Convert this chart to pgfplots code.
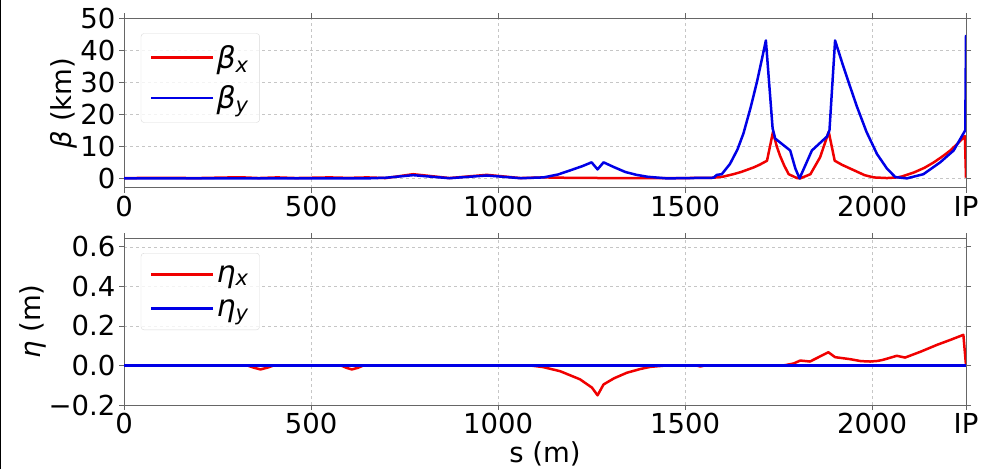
\documentclass[border=0pt]{standalone}
\usepackage{fontspec}
\setmainfont{DejaVu Sans}
\usepackage{pgfplots}
\pgfplotsset{compat=1.18}
\definecolor{mplred}{RGB}{240,0,0}
\definecolor{mplblue}{RGB}{0,0,230}
\newcommand{\bigfont}{\fontsize{27.5}{30}\selectfont}
\newcommand{\legfont}{\fontsize{30}{32}\selectfont}
\pgfplotsset{
  mystyle/.style={
    scale only axis, width=842pt, anchor=south west,
    xmin=0, xmax=2251,
    xtick={0,500,1000,1500,2000,2251},
    xticklabels={0,500,1000,1500,2000,IP},
    grid=major, major grid style={dashed, gray!45, line width=0.6pt},
    axis line style={black!60, line width=1pt},
    tick align=outside, major tick length=5pt,
    tick style={black!60, line width=0.8pt},
    tick label style={font=\bigfont},
    label style={font=\bigfont},
    ylabel style={yshift=-4pt},
    legend style={at={(0.02,0.91)}, anchor=north west, draw=black!15,
      rounded corners=3pt, font=\legfont, fill=white, fill opacity=0.8,
      text opacity=1, row sep=12pt, inner xsep=9pt, inner ysep=10pt},
    legend cell align=left,
    legend image code/.code={\draw[#1, line width=2.5pt] (0pt,0pt) -- (62pt,0pt);},
    every axis plot/.append style={line width=2.5pt, line join=round},
  }
}
\begin{document}
\begin{tikzpicture}
\useasboundingbox (0,0) rectangle (1001pt,469pt);
\draw[black, line width=1.2pt] (0.6pt,0pt) -- (0.6pt,469pt);
\begin{axis}[mystyle, at={(124pt,281pt)}, height=170pt,
  ymin=-3, ymax=50, ytick={0,10,20,30,40,50},
  yticklabels={0,10,20,30,40,50},
  ylabel={\textit{β} (km)}]
\addplot[mplred] coordinates {
(0,0.1)(100,0.15)(200,0.1)(310,0.35)(360,0.1)(410,0.3)(460,0.1)(550,0.3)(600,0.15)(650,0.3)(700,0.1)(773,1.3)(870,0.1)(970,1.1)(1060,0.1)(1121,0.3)(1200,0.15)(1300,0.1)(1400,0.1)(1500,0.1)(1576,0.2)(1600,0.5)(1629,1.3)(1650,2)(1683,3.4)(1700,4.3)(1719,5.5)(1735,14.5)(1745,10)(1754,7)(1765,4)(1777,1.3)(1799,0.1)(1808,0)(1835,1.3)(1861,6.6)(1884,14.5)(1900,5.5)(1920,4.2)(1950,2.6)(1980,1.0)(2004,0.3)(2040,0.1)(2067,0.3)(2080,0.6)(2111,1.8)(2140,3.3)(2165,5)(2190,7)(2209,8.7)(2230,11)(2248,13.2)(2251,0.2)
};
\addlegendentry{\textit{β\textsubscript{x}}}
\addplot[mplblue] coordinates {
(0,0)(650,0)(700,0.2)(773,1.0)(870,0.05)(970,0.9)(1060,0.05)(1121,0.3)(1160,1.2)(1193,2.5)(1225,3.8)(1250,5.0)(1266,2.8)(1282,5.0)(1310,3.5)(1340,2.0)(1370,1.1)(1400,0.5)(1451,0)(1576,0.2)(1585,1.1)(1598,1.3)(1620,4.5)(1640,9)(1656,14)(1675,22)(1692,30)(1705,37)(1716,43)(1734,15.6)(1741,12.4)(1781,8.7)(1795,3)(1806,0)(1839,8.7)(1879,13)(1886,15)(1901,43)(1920,36)(1940,29)(1959,22.5)(1985,14.5)(2013,7.6)(2040,3)(2062,0.4)(2093,0)(2137,1.3)(2182,5)(2218,8.7)(2249,15)(2251,44.7)
};
\addlegendentry{\textit{β\textsubscript{y}}}
\end{axis}
\begin{axis}[mystyle, at={(124pt,64pt)}, height=167pt,
  ymin=-0.2, ymax=0.645, ytick={-0.2,0,0.2,0.4,0.6},
  yticklabels={−0.2,0.0,0.2,0.4,0.6},
  ylabel={\textit{η} (m)}, xlabel={s (m)}]
\addplot[mplred] coordinates {
(0,0)(330,0)(345,-0.01)(365,-0.02)(385,-0.01)(400,0)(580,0)(595,-0.012)(609,-0.02)(625,-0.012)(640,0)(1086,0)(1120,-0.008)(1166,-0.029)(1219,-0.07)(1251,-0.112)(1266,-0.151)(1282,-0.096)(1310,-0.065)(1344,-0.037)(1380,-0.018)(1407,-0.007)(1450,0)(1530,0)(1541,-0.005)(1552,0)(1763,0)(1790,0.01)(1808,0.025)(1834,0.02)(1883,0.067)(1901,0.042)(1941,0.032)(1970,0.022)(1995,0.02)(2015,0.023)(2030,0.029)(2066,0.049)(2088,0.04)(2130,0.07)(2173,0.104)(2210,0.13)(2244,0.155)(2251,0.0)
};
\addlegendentry{\textit{η\textsubscript{x}}}
\addplot[mplblue] coordinates {(0,0)(2251,0)};
\addlegendentry{\textit{η\textsubscript{y}}}
\end{axis}
\end{tikzpicture}
\end{document}
